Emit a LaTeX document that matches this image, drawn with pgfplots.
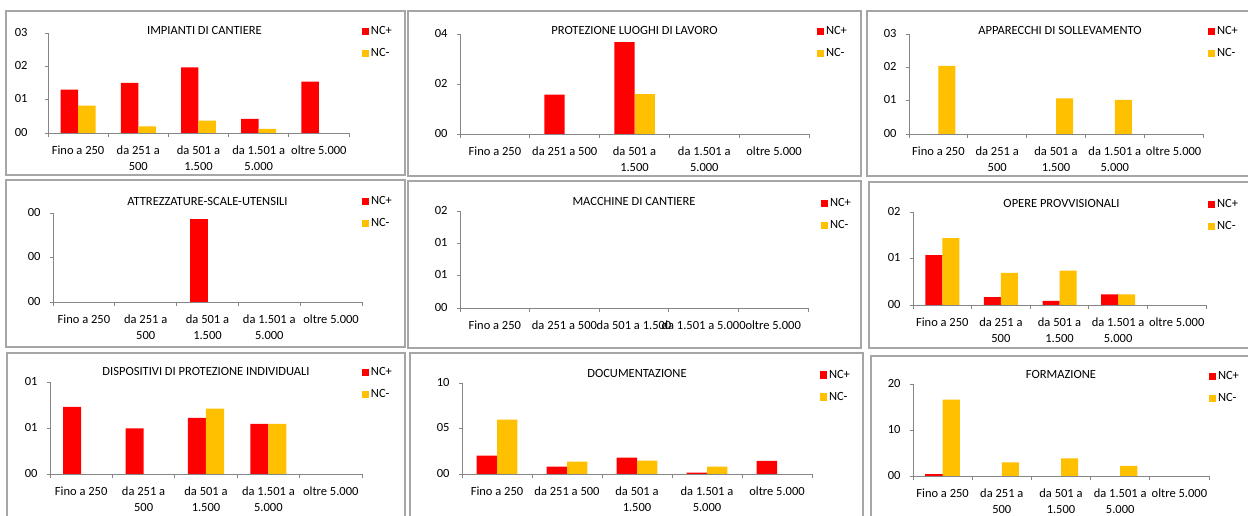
\documentclass[border=0pt]{standalone}
\usepackage{pgfplots}
\pgfplotsset{compat=1.18}
\usepackage{fontspec}
\setmainfont{Carlito}
\definecolor{ncred}{HTML}{FF0000}
\definecolor{ncyel}{HTML}{FFC000}
\definecolor{axisgray}{HTML}{868686}
\definecolor{framegray}{HTML}{A6A6A6}
\newcommand{\fs}{\fontsize{12.5bp}{16bp}\selectfont}
\pgfplotsset{
  ncpanel/.style={
    ybar=0pt, bar width=0.29, scale only axis, anchor=south west,
    xmin=-0.5, xmax=4.5, ymin=0, enlargelimits=false,
    axis x line=bottom, axis y line=left,
    axis line style={-, draw=axisgray, line width=0.8bp},
    tick align=outside,
    xtick={0,...,4}, minor xtick={-0.5,0.5,...,4.5},
    major x tick style={draw=none},
    minor x tick style={draw=axisgray, line width=0.8bp},
    major tick length=3bp, minor tick length=4bp,
    ytick style={draw=axisgray, line width=0.8bp},
    /pgf/number format/assume math mode=true,
    ticklabel style={font=\fs, text=black},
    typeset ticklabels with strut,
    xticklabel style={align=center, anchor=north, yshift=-4bp},
    yticklabel style={xshift=-6bp},
    title style={font=\fs, anchor=center, at={(0.5,1)}},
    legend style={draw=none, fill=none, font=\fs, at={(1,1)}, anchor=north west,
      inner sep=0pt, outer sep=0pt, row sep=10bp, column sep=2bp,
      nodes={inner sep=0pt, text height=9bp, text depth=3bp}},
    legend cell align=left,
    legend image code/.code={\fill[##1] (0bp,-3.5bp) rectangle (7bp,3.5bp);},
  },
  ncp/.style={fill=ncred, draw=none, bar shift=-0.145},
  ncm/.style={fill=ncyel, draw=none, bar shift=0.145},
}
\begin{document}
\begin{tikzpicture}
\useasboundingbox (0bp,0bp) rectangle (1248bp,516bp);
\fill[white] (0bp,0bp) rectangle (1248bp,516bp);
% riquadri dei grafici
\begin{scope}[draw=framegray, line width=1.1bp]
\draw (6bp,505bp) rectangle (405bp,341bp);
\draw (408bp,505bp) rectangle (861bp,340bp);
\draw (867bp,505bp) rectangle (1256bp,340bp);
\draw (6bp,336bp) rectangle (405bp,169bp);
\draw (408bp,335bp) rectangle (861bp,168bp);
\draw (869bp,334bp) rectangle (1256bp,168bp);
\draw (7bp,163bp) rectangle (405bp,-6bp);
\draw (410bp,163bp) rectangle (863bp,-6bp);
\draw (871bp,160bp) rectangle (1256bp,-6bp);
\end{scope}

% 1 - impianti di cantiere
\begin{axis}[ncpanel, at={(48bp,383bp)}, width=301bp, height=100bp,
  ymax=3, ytick={0,1,2,3}, yticklabels={00,01,02,03},
  yticklabel style={xshift=-8bp},
  xticklabels={{Fino a 250},{da 251 a\\500},{da 501 a\\1.500},{da 1.501 a\\5.000},{oltre 5.000}},
  title={IMPIANTI DI CANTIERE}, title style={yshift=-3bp, xshift=6bp},
  legend style={xshift=13bp, yshift=7bp}]
\addplot[ncp] coordinates {(0,1.30) (1,1.50) (2,1.97) (3,0.42) (4,1.54)};
\addplot[ncm] coordinates {(0,0.82) (1,0.20) (2,0.37) (3,0.12)};
\legend{NC+,NC-}
\end{axis}

% 2 - protezione luoghi di lavoro
\begin{axis}[ncpanel, at={(460bp,382bp)}, width=349bp, height=100bp,
  ymax=4, ytick={0,2,4}, yticklabels={00,02,04},
  xticklabels={{Fino a 250},{da 251 a 500},{da 501 a\\1.500},{da 1.501 a\\5.000},{oltre 5.000}},
  title={PROTEZIONE LUOGHI DI LAVORO}, title style={yshift=-2bp},
  legend style={xshift=8bp, yshift=8bp}]
\addplot[ncp] coordinates {(1,1.57) (2,3.67)};
\addplot[ncm] coordinates {(2,1.60)};
\legend{NC+,NC-}
\end{axis}

% 3 - apparecchi di sollevamento
\begin{axis}[ncpanel, at={(909bp,382bp)}, width=294bp, height=100bp,
  ymax=3, ytick={0,1,2,3}, yticklabels={00,01,02,03},
  xticklabels={{Fino a 250},{da 251 a\\500},{da 501 a\\1.500},{da 1.501 a\\5.000},{oltre 5.000}},
  title={APPARECCHI DI SOLLEVAMENTO}, title style={yshift=-2bp, xshift=4bp},
  legend style={xshift=5bp, yshift=8bp}]
\addlegendimage{ncp}
\addlegendentry{NC+}
\addplot[ncm] coordinates {(0,2.04) (2,1.07) (3,1.02)};
\addlegendentry{NC-}
\end{axis}

% 4 - attrezzature-scale-utensili
\begin{axis}[ncpanel, at={(53bp,214bp)}, width=309bp, height=89bp,
  ymax=2, ytick={0,1,2}, yticklabels={00,00,00},
  xticklabels={{Fino a 250},{da 251 a\\500},{da 501 a\\1.500},{da 1.501 a\\5.000},{oltre 5.000}},
  title={ATTREZZATURE-SCALE-UTENSILI}, title style={yshift=6bp},
  legend style={xshift=0bp, yshift=17bp}]
\addplot[ncp] coordinates {(2,1.87)};
\addlegendentry{NC+}
\addlegendimage{ncm}
\addlegendentry{NC-}
\end{axis}

% 5 - macchine di cantiere (nessuna non conformita')
\begin{axis}[ncpanel, at={(460bp,208bp)}, width=348bp, height=97bp,
  ymax=3, ytick={0,1,2,3}, yticklabels={00,01,01,02},
  xticklabels={{Fino a 250},{da 251 a 500},{da 501 a 1.500},{da 1.501 a 5.000},{oltre 5.000}},
  title={MACCHINE DI CANTIERE}, title style={yshift=4bp},
  legend style={xshift=13bp, yshift=13bp}]
\addlegendimage{ncp}
\addlegendentry{NC+}
\addlegendimage{ncm}
\addlegendentry{NC-}
\end{axis}

% 6 - opere provvisionali
\begin{axis}[ncpanel, at={(913bp,211bp)}, width=293bp, height=93bp,
  ymax=2, ytick={0,1,2}, yticklabels={00,01,02},
  xticklabels={{Fino a 250},{da 251 a\\500},{da 501 a\\1.500},{da 1.501 a\\5.000},{oltre 5.000}},
  title={OPERE PROVVISIONALI}, title style={yshift=3bp, xshift=2bp},
  legend style={xshift=2bp, yshift=13bp}]
\addplot[ncp] coordinates {(0,1.07) (1,0.17) (2,0.09) (3,0.23)};
\addplot[ncm] coordinates {(0,1.44) (1,0.69) (2,0.74) (3,0.23)};
\legend{NC+,NC-}
\end{axis}

% 7 - dispositivi di protezione individuali
\begin{axis}[ncpanel, at={(50bp,42bp)}, width=312bp, height=92bp,
  ymax=2, ytick={0,1,2}, yticklabels={00,01,01},
  xticklabels={{Fino a 250},{da 251 a\\500},{da 501 a\\1.500},{da 1.501 a\\5.000},{oltre 5.000}},
  title={DISPOSITIVI DI PROTEZIONE INDIVIDUALI}, title style={yshift=5bp},
  legend style={xshift=0bp, yshift=15bp}]
\addplot[ncp] coordinates {(0,1.46) (1,0.99) (2,1.22) (3,1.09)};
\addplot[ncm] coordinates {(2,1.42) (3,1.09)};
\legend{NC+,NC-}
\end{axis}

% 8 - documentazione
\begin{axis}[ncpanel, at={(462bp,42bp)}, width=350bp, height=91bp,
  ymax=10, ytick={0,5,10}, yticklabels={00,05,10},
  xticklabels={{Fino a 250},{da 251 a 500},{da 501 a\\1.500},{da 1.501 a\\5.000},{oltre 5.000}},
  title={DOCUMENTAZIONE}, title style={yshift=4bp},
  legend style={xshift=8bp, yshift=14bp}]
\addplot[ncp] coordinates {(0,2.01) (1,0.81) (2,1.79) (3,0.15) (4,1.43)};
\addplot[ncm] coordinates {(0,5.97) (1,1.36) (2,1.47) (3,0.81)};
\legend{NC+,NC-}
\end{axis}

% 9 - formazione
\begin{axis}[ncpanel, at={(913bp,40bp)}, width=296bp, height=92bp,
  ymax=20, ytick={0,10,20}, yticklabels={00,10,20},
  xticklabels={{Fino a 250},{da 251 a\\500},{da 501 a\\1.500},{da 1.501 a\\5.000},{oltre 5.000}},
  title={FORMAZIONE}, title style={yshift=4bp},
  legend style={xshift=0bp, yshift=13bp}]
\addplot[ncp] coordinates {(0,0.44)};
\addplot[ncm] coordinates {(0,16.6) (1,2.98) (2,3.85) (3,2.18)};
\legend{NC+,NC-}
\end{axis}
\end{tikzpicture}
\end{document}
